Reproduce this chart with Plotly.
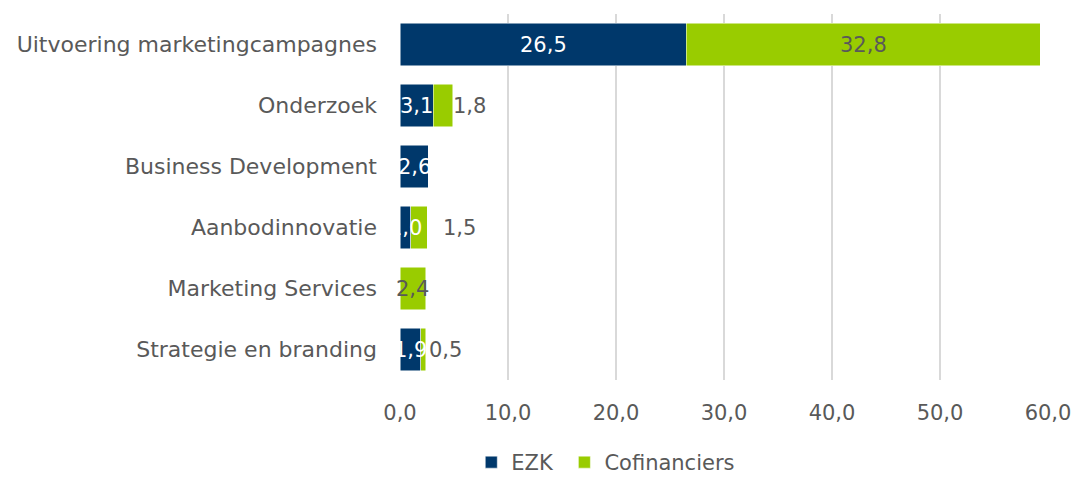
import plotly.graph_objects as go

categories = ["Uitvoering marketingcampagnes", "Onderzoek", "Business Development",
              "Aanbodinnovatie", "Marketing Services", "Strategie en branding"]
ezk = [26.5, 3.1, 2.6, 1.0, 0.0, 1.9]
cofin = [32.8, 1.8, 0.0, 1.5, 2.4, 0.5]
x_ticks = [0, 10, 20, 30, 40, 50, 60]

# label pixel shifts (style only) for manually moved labels in the original
cof_shift = [0, 26, 0, 41, 0, 22]

NAVY = "#00386B"
GREEN = "#99CC00"
GREY = "#595959"
FONT = "DejaVu Sans"
FS = 21

fig = go.Figure()
fig.add_trace(go.Bar(y=categories, x=ezk, name="EZK\u00a0", orientation="h",
                     marker=dict(color=NAVY, line=dict(color="white", width=0.5))))
fig.add_trace(go.Bar(y=categories, x=cofin, name="Cofinanciers", orientation="h",
                     marker=dict(color=GREEN, line=dict(color="white", width=0.5))))

def fmt(v):
    return f"{v:.1f}".replace(".", ",")

for i, c in enumerate(categories):
    if ezk[i] > 0:
        fig.add_annotation(x=ezk[i] / 2, y=c, text=fmt(ezk[i]), showarrow=False,
                           font=dict(color="white", size=FS, family=FONT))
    if cofin[i] > 0:
        fig.add_annotation(x=ezk[i] + cofin[i] / 2, y=c, text=fmt(cofin[i]), showarrow=False,
                           xshift=cof_shift[i],
                           font=dict(color=GREY, size=FS, family=FONT))

fig.update_layout(
    barmode="stack",
    bargap=0.31,
    width=1074, height=475,
    margin=dict(l=392, r=34, t=6, b=103),
    plot_bgcolor="white", paper_bgcolor="white",
    separators=",.",
    font=dict(family=FONT, size=FS, color=GREY),
    showlegend=True,
    legend=dict(orientation="h", x=0.11, xanchor="left", yref="container", y=-0.017,
                yanchor="bottom", font=dict(size=FS, color=GREY), traceorder="normal"),
    xaxis=dict(range=[0, 60], tickvals=x_ticks, tickformat=".1f", showgrid=True,
               gridcolor="#D9D9D9", gridwidth=1.5, zeroline=False, showline=False,
               ticks="", ticklabelstandoff=18, automargin=False,
               tickfont=dict(size=FS, color=GREY)),
    yaxis=dict(categoryorder="array", categoryarray=categories[::-1], showgrid=False,
               ticks="", ticklabelstandoff=22, automargin=False,
               tickfont=dict(size=22, color=GREY)),
)

fig.write_html("out.html")
